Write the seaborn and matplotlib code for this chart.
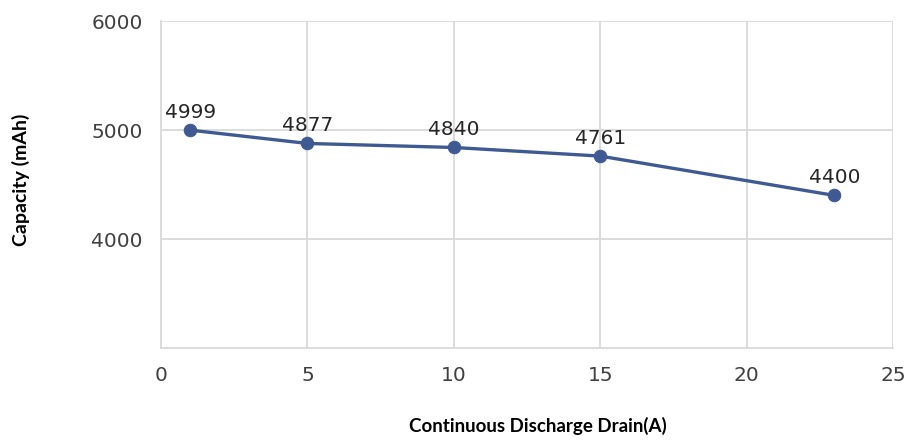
import matplotlib
matplotlib.use("Agg")
import matplotlib.pyplot as plt
import seaborn as sns
import pandas as pd

drain_a = [1, 5, 10, 15, 23]
capacity_mah = [4999, 4877, 4840, 4761, 4400]
x_ticks = [0, 5, 10, 15, 20, 25]
y_ticks = [4000, 5000, 6000]

df = pd.DataFrame({"drain": drain_a, "capacity": capacity_mah})

sns.set_theme(style="white")
plt.rcParams['font.family'] = ['DejaVu Sans']

fig = plt.figure(figsize=(9.07, 4.48), dpi=100)
ax = fig.add_axes([0.1775, 0.2232, 0.8071, 0.7298])

color = "#3F5A93"
sns.lineplot(data=df, x="drain", y="capacity", ax=ax, color=color,
             marker="o", markersize=9, linewidth=2.4,
             markeredgecolor=color, markerfacecolor=color)

for x, y in zip(drain_a, capacity_mah):
    ax.annotate(f"{y}", (x, y), xytext=(0, 6), textcoords="offset points",
                ha="center", va="bottom", fontsize=14.5, color="#262626")

ax.set_xlim(0, 25)
ax.set_ylim(3000, 6000)
ax.set_xticks(x_ticks)
ax.set_yticks(y_ticks)
ax.tick_params(axis="both", labelsize=14.5, colors="#404040", length=0, pad=13)
ax.grid(True, color="#d9d9d9", linewidth=1.3)
ax.set_axisbelow(True)
for s in ["top", "right"]:
    ax.spines[s].set_visible(False)
for s in ["left", "bottom"]:
    ax.spines[s].set_color("#d9d9d9")
    ax.spines[s].set_linewidth(1.3)

ax.set_xlabel("")
ax.set_ylabel("")
fig.text(0.593, 0.049, "Continuous Discharge Drain(A)", ha="center", va="center",
         fontsize=13.5, fontweight="bold", color="black", family="Lato")
fig.text(0.023, 0.598, "Capacity (mAh)", ha="center", va="center", rotation=90,
         fontsize=14, fontweight="bold", color="black", family="Lato")

fig.savefig("out.png", dpi=100)
